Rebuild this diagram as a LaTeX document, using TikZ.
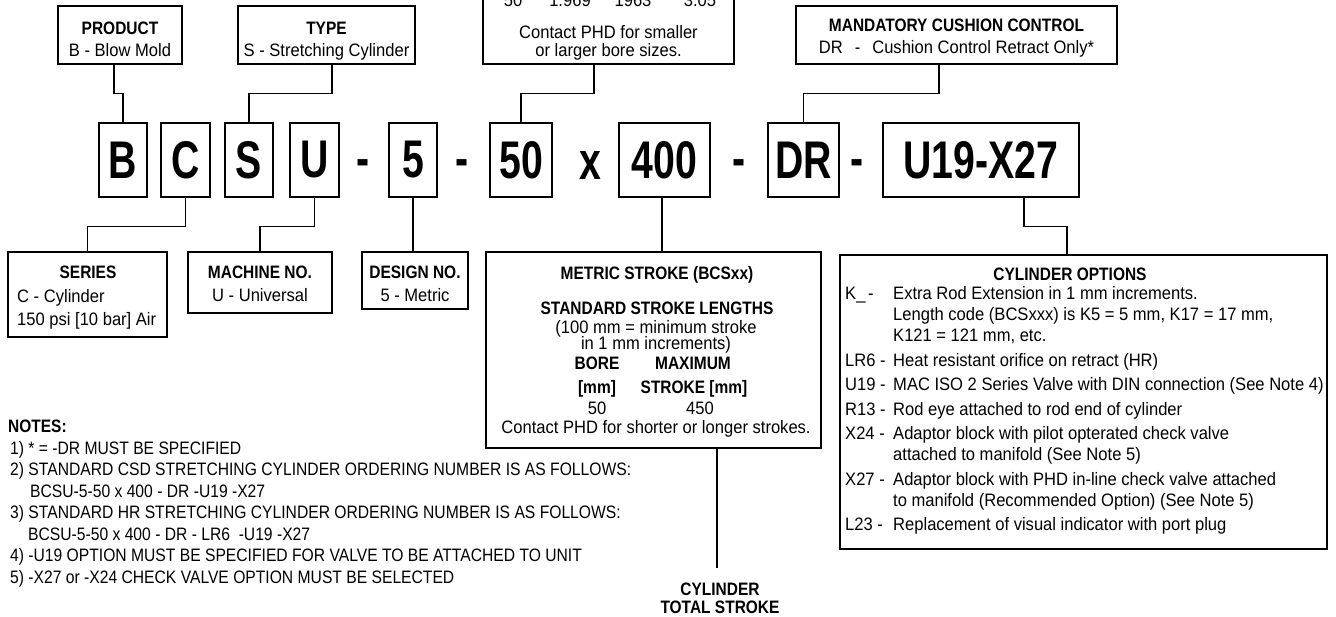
\documentclass[tikz,border=0pt]{standalone}
\usepackage{fontspec}
\setmainfont{Liberation Sans}[FakeStretch=0.92]
\newfontfamily\hdfont{Liberation Sans}[FakeStretch=0.86]
\newfontfamily\notefont{Liberation Sans}[FakeStretch=0.87]
\newfontfamily\codefont{Liberation Sans}[FakeStretch=0.74]
\begin{document}
\begin{tikzpicture}[x=1pt,y=-1pt]
\tikzset{
 bx/.style={draw, line width=1.2pt, inner sep=0pt},
 cbx/.style={bx, minimum height=74pt, font=\codefont\bfseries\fontsize{53}{53}\selectfont},
 ctx/.style={inner sep=0pt, anchor=base, font=\codefont\bfseries\fontsize{53}{53}\selectfont},
 tl/.style={inner sep=0pt, anchor=base, font=\hdfont\bfseries\fontsize{18}{20}\selectfont},
 tx/.style={inner sep=0pt, anchor=base, font=\fontsize{18}{20}\selectfont},
 txl/.style={tx, anchor=base west},
 tll/.style={tl, anchor=base west},
 nl/.style={inner sep=0pt, anchor=base west, font=\notefont\fontsize{18}{20}\selectfont},
 cn/.style={line width=1.2pt},
}
\useasboundingbox (0,0) rectangle (1336,616);
\clip (0,0) rectangle (1336,616);
% top boxes
\node[bx, minimum width=124pt, minimum height=58pt] (prod) at (120,35) {};
\node[bx, minimum width=177pt, minimum height=58pt] (type) at (326.5,35) {};
\node[bx, minimum width=251pt, minimum height=104pt] (bore) at (608.5,12) {};
\node[bx, minimum width=321pt, minimum height=58pt] (mand) at (956.5,35) {};
\node[tl] (prodT) at (120,34.5) {PRODUCT};
\node[tx] (prodL) at (120,56.5) {B - Blow Mold};
\node[tl] (typeT) at (326.5,34.5) {TYPE};
\node[tx] (typeL) at (326.5,56.5) {S - Stretching Cylinder};
\node[tx] (r1) at (513,6) {50};
\node[tx] (r2) at (570,6) {1.969};
\node[tx] (r3) at (633,6) {1963};
\node[tx] (r4) at (700,6) {3.05};
\node[tx] (boreL1) at (608.5,38.5) {Contact PHD for smaller};
\node[tx] (boreL2) at (608.5,56.5) {or larger bore sizes.};
\node[tl] (mandT) at (956.5,31.5) {MANDATORY CUSHION CONTROL};
\node[tx] (mandL) at (956.5,53.5) {DR\hspace{12pt}-\hspace{12pt}Cushion Control Retract Only*};
% code row
\node[cbx, minimum width=48pt] (b) at (123,160) {B};
\node[cbx, minimum width=49pt] (c) at (185.5,160) {C};
\node[cbx, minimum width=48pt] (s) at (249,160) {S};
\node[cbx, minimum width=49pt] (u) at (314.5,160) {U};
\node[ctx] (d1) at (363.5,176) {-};
\node[cbx, minimum width=48pt] (five) at (413,160) {5};
\node[ctx] (d2) at (462,176) {-};
\node[cbx, minimum width=62pt] (fifty) at (521,160) {50};
\node[ctx] (xx) at (590,179) {x};
\node[cbx, minimum width=91pt] (four) at (664.5,160) {400};
\node[ctx] (d3) at (739,176) {-};
\node[cbx, minimum width=71pt] (dr) at (803.5,160) {DR};
\node[ctx] (d4) at (857,176) {-};
\node[cbx, minimum width=196pt] (opt) at (981,160) {U19-X27};
% top connectors
\draw[cn] ([xshift=-6pt]prod.south) -- ++(0,29) -| (b.north);
\draw[cn] ([xshift=5.5pt]type.south) -- ++(0,29) -| (s.north);
\draw[cn] ([xshift=-14.5pt]bore.south) -- ++(0,29) -| (fifty.north);
\draw[cn] ([xshift=-17.5pt]mand.south) -- ++(0,29) -| (dr.north);
% bottom boxes
\node[bx, minimum width=159pt, minimum height=85pt] (series) at (87.5,294.5) {};
\node[bx, minimum width=144pt, minimum height=61pt] (machine) at (260,282.5) {};
\node[bx, minimum width=106pt, minimum height=57pt] (design) at (415,280.5) {};
\node[bx, minimum width=335pt, minimum height=196pt] (metric) at (653.5,350) {};
\node[bx, minimum width=487pt, minimum height=294pt] (options) at (1083.5,402) {};
% bottom connectors
\draw[cn] (c.south) -- ++(0,29) -| (series.north);
\draw[cn] (u.south) -- ++(0,29) -| (machine.north);
\draw[cn] (five.south) -- (five.south |- design.north);
\draw[cn] ([xshift=-2.5pt]four.south) -- ([xshift=-2.5pt]four.south |- metric.north);
\draw[cn] ([xshift=43pt]opt.south) -- ++(0,29) -| ([xshift=-16.5pt]options.north);
\coordinate (tsend) at (717,568);
\draw[cn] (metric.south -| tsend) -- (tsend);
% bottom box texts
\node[tl] (serT) at (88,278.5) {SERIES};
\node[txl] (serL1) at (17,302.5) {C - Cylinder};
\node[txl] (serL2) at (17,325.5) {150 psi [10 bar] Air};
\node[tl] (macT) at (260,278.5) {MACHINE NO.};
\node[tx] (macL) at (260,301.5) {U - Universal};
\node[tl] (desT) at (415,278.5) {DESIGN NO.};
\node[tx] (desL) at (415,301.5) {5 - Metric};
% metric box
\node[tl] (metT) at (657,279.5) {METRIC STROKE (BCSxx)};
\node[tl] (metS) at (657,314.5) {STANDARD STROKE LENGTHS};
\node[tx] (metL1) at (656,333.5) {(100 mm = minimum stroke};
\node[tx] (metL2) at (656,349.5) {in 1 mm increments)};
\node[tl] (metB1) at (597,369.5) {BORE};
\node[tl] (metM1) at (693,369.5) {MAXIMUM};
\node[tl] (metB2) at (597,393.5) {[mm]};
\node[tl] (metM2) at (694,393.5) {STROKE [mm]};
\node[tx] (metV1) at (597,414.5) {50};
\node[tx] (metV2) at (700,414.5) {450};
\node[tx] (metC) at (656,433.5) {Contact PHD for shorter or longer strokes.};
% cylinder total stroke
\node[tl] (tot1) at (720,595.5) {CYLINDER};
\node[tl] (tot2) at (720,613.5) {TOTAL STROKE};
% options box
\node[tl] (optT) at (1070,280.5) {CYLINDER OPTIONS};
\node[txl] (k1) at (845,299.5) {K\_};
\node[txl] (k2) at (868,299.5) {-};
\node[txl] (k3) at (893,299.5) {Extra Rod Extension in 1 mm increments.};
\node[txl] (k4) at (893,320.5) {Length code (BCSxxx) is K5 = 5 mm, K17 = 17 mm,};
\node[txl] (k5) at (893,341.5) {K121 = 121 mm, etc.};
\node[txl] (lr1) at (845,366) {LR6 -};
\node[txl] (lr3) at (893,366) {Heat resistant orifice on retract (HR)};
\node[txl] (u1) at (845,390.5) {U19 -};
\node[txl] (u3) at (893,390.5) {MAC ISO 2 Series Valve with DIN connection (See Note 4)};
\node[txl] (r131) at (845,415) {R13 -};
\node[txl] (r133) at (893,415) {Rod eye attached to rod end of cylinder};
\node[txl] (x241) at (845,439.5) {X24 -};
\node[txl] (x243) at (893,439.5) {Adaptor block with pilot opterated check valve};
\node[txl] (x244) at (893,460.5) {attached to manifold (See Note 5)};
\node[txl] (x271) at (845,485) {X27 -};
\node[txl] (x273) at (893,485) {Adaptor block with PHD in-line check valve attached};
\node[txl] (x274) at (893,506) {to manifold (Recommended Option) (See Note 5)};
\node[txl] (l231) at (845,530.5) {L23 -};
\node[txl] (l233) at (893,530.5) {Replacement of visual indicator with port plug};
% notes
\node[tll] (nT) at (8,432.5) {NOTES:};
\node[nl] (n1) at (10,454) {1) * = -DR MUST BE SPECIFIED};
\node[nl] (n2) at (10,475.5) {2) STANDARD CSD STRETCHING CYLINDER ORDERING NUMBER IS AS FOLLOWS:};
\node[nl] (n2b) at (30,497) {BCSU-5-50 x 400 - DR -U19 -X27};
\node[nl] (n3) at (10,518.5) {3) STANDARD HR STRETCHING CYLINDER ORDERING NUMBER IS AS FOLLOWS:};
\node[nl] (n3b) at (28,540) {BCSU-5-50 x 400 - DR - LR6\ \ -U19 -X27};
\node[nl] (n4) at (10,561.5) {4) -U19 OPTION MUST BE SPECIFIED FOR VALVE TO BE ATTACHED TO UNIT};
\node[nl] (n5) at (10,583) {5) -X27 or -X24 CHECK VALVE OPTION MUST BE SELECTED};
\end{tikzpicture}
\end{document}
